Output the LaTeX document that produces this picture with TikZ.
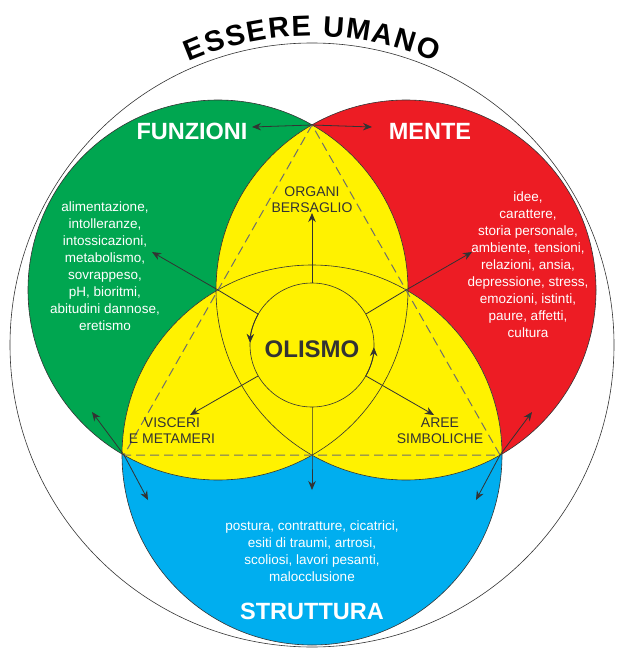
\documentclass[tikz,border=0pt]{standalone}
\usepackage{fontspec}
\setmainfont{Liberation Sans}
\usetikzlibrary{arrows.meta, decorations.text}
\definecolor{holgreen}{HTML}{00A650}
\definecolor{holred}{HTML}{ED1C24}
\definecolor{holyellow}{HTML}{FFF200}
\definecolor{holblue}{HTML}{00AEEF}
\definecolor{holdark}{HTML}{333333}
\definecolor{holdash}{HTML}{6E6E6E}

\begin{document}
\begin{tikzpicture}[
    x=1pt, y=-1pt,
    rim/.style={draw=holdark, line width=0.6pt},
    arrow/.style={-{Stealth[length=9pt,width=7.5pt]}, draw=holdark, line width=0.8pt},
    twoway/.style={{Stealth[length=9pt,width=7.5pt]}-{Stealth[length=9pt,width=7.5pt]}, draw=holdark, line width=0.8pt},
    heading/.style={font=\fontsize{23.5}{26}\selectfont\bfseries, text=white},
    inner/.style={font=\fontsize{14}{16}\selectfont, text=holdark, align=center},
    listing/.style={font=\fontsize{13.5}{17}\selectfont, text=white, align=center}
]

% Canvas
\useasboundingbox (0,0) rectangle (620,660);

% Centres and vertices
\coordinate (gc) at (218,290);
\coordinate (rc) at (406,290);
\coordinate (bc) at (312,455);
\coordinate (mid) at (312,345);
\coordinate (top) at (312,125);
\coordinate (left) at (124,455);
\coordinate (right) at (500,455);

% Outer circle and title
\draw[rim] (mid) circle[radius=302];
\path[decorate, decoration={text along path, text align={fit to path},
    text={|\fontsize{29}{29}\selectfont\bfseries|ESSERE UMANO}}]
    (mid) ++(-113.5:309) arc[start angle=-113.5, end angle=-66.5, radius=309];

% Circles
\fill[holgreen] (gc) circle[radius=190];
\fill[holred] (rc) circle[radius=190];
\fill[holblue] (bc) circle[radius=190];
\begin{scope}
  \clip (gc) circle[radius=190];
  \fill[holyellow] (rc) circle[radius=190];
  \fill[holyellow] (bc) circle[radius=190];
\end{scope}
\begin{scope}
  \clip (rc) circle[radius=190];
  \fill[holyellow] (bc) circle[radius=190];
\end{scope}
\draw[rim] (gc) circle[radius=190];
\draw[rim] (rc) circle[radius=190];
\draw[rim] (bc) circle[radius=190];

% Dashed triangle
\draw[holdash, dash pattern=on 9pt off 5pt, line width=1pt] (top) -- (left) -- (right) -- cycle;

% Inner circle
\fill[holyellow] (mid) circle[radius=62];
\draw[rim] (mid) circle[radius=62];
\draw[arrow] (mid) ++(-150:62) arc[start angle=-150, end angle=-178, radius=62];
\draw[arrow] (mid) ++(30:62) arc[start angle=30, end angle=2, radius=62];

% Spokes
\draw[arrow] (312,283) -- (312,213);
\draw[arrow] (258,314) -- (gc) -- (152,252);
\draw[arrow] (366,314) -- (rc) -- (472,252);
\draw[arrow] (258,376) -- (190,415);
\draw[arrow] (366,376) -- (434,415);
\draw[arrow] (312,407) -- (bc) -- (312,490);

% Outer arrows
\draw[twoway] (252,127) -- (top) -- (372,127);
\draw[twoway] (92,412) -- (left) -- (148,500);
\draw[twoway] (532,412) -- (right) -- (476,500);

% Headings
\node[heading] (funz) at (192,131) {FUNZIONI};
\node[heading] (mente) at (430,131) {MENTE};
\node[heading] (strutt) at (312,611) {STRUTTURA};
\node[font=\fontsize{24}{26}\selectfont\bfseries, text=holdark] (olismo) at (312,349) {OLISMO};

% Inner labels
\node[inner] (organi) at (312,200) {ORGANI\\BERSAGLIO};
\node[inner] (visceri) at (172,431) {VISCERI\\E METAMERI};
\node[inner] (aree) at (440,431) {AREE\\SIMBOLICHE};

% Lists
\node[listing] (funzlist) at (105,266) {alimentazione,\\intolleranze,\\intossicazioni,\\metabolismo,\\sovrappeso,\\pH, bioritmi,\\abitudini dannose,\\eretismo};
\node[listing] (mentelist) at (528,265) {idee,\\carattere,\\storia personale,\\ambiente, tensioni,\\relazioni, ansia,\\depressione, stress,\\emozioni, istinti,\\paure, affetti,\\cultura};
\node[listing] (struttlist) at (312,551) {postura, contratture, cicatrici,\\esiti di traumi, artrosi,\\scoliosi, lavori pesanti,\\malocclusione};

\end{tikzpicture}
\end{document}
